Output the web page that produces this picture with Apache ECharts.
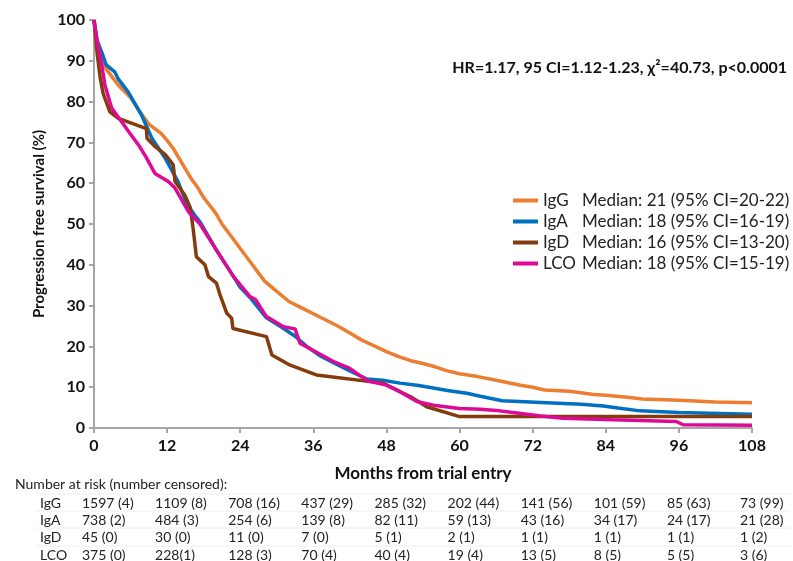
<!DOCTYPE html>
<html>
<head>
<meta charset="utf-8">
<script src="https://cdn.jsdelivr.net/npm/echarts@6/dist/echarts.min.js"></script>
<style>
  html, body { margin: 0; padding: 0; background: #fff; }
  #chart { width: 793px; height: 561px; }
</style>
</head>
<body>
<div id="chart"></div>
<script>
// survival curves, [month, % progression free]
var igG = [[0,100],[0.5,94],[1,90.5],[2,88],[3,86],[4,84],[6,81],[8,76.5],[9,74.5],[11,72.2],[12,70.5],[13,68.5],[14,66],[16,61],[17,59],[18,56.5],[20,52.6],[21,50],[23,46],[24,44],[26,40],[28,36],[30,33.5],[32,31],[34,29.5],[36,28],[40,25],[42,23.3],[44,21.5],[48,18.7],[50,17.5],[52,16.5],[54,15.8],[56,15],[58,14],[60,13.3],[63,12.6],[66,11.7],[70,10.5],[72,10],[74,9.3],[78,9],[82,8.2],[84,8],[88,7.5],[90,7.1],[96,6.8],[102,6.4],[108,6.2]];
var igA = [[0,100],[0.5,95],[1.3,92],[2,89],[3.4,87.3],[4,85.5],[5.6,82.4],[7.8,76.7],[9.5,71],[11.7,66.1],[13.8,60.4],[15.2,55],[16.6,52],[17.4,50.5],[18,49],[20.1,43.6],[22.9,37.1],[24,34.5],[25.6,32],[28.3,27],[31,24.5],[33,22.5],[34.9,20],[37,17.8],[39.3,16],[42,14],[44.8,12],[47.4,11.7],[50.2,11],[53,10.5],[55.7,9.8],[58,9.2],[61.2,8.5],[63.4,7.8],[67,6.7],[74.3,6.2],[80,5.8],[83.6,5.4],[86,4.9],[89.6,4.2],[96,3.8],[108,3.4]];
var igD = [[0,100],[0.5,92],[1,86],[1.5,82],[2.6,77.5],[4,75.9],[8.6,73.4],[8.7,71],[10,69],[11.7,67],[13,64.5],[13.3,60.4],[14.9,57.1],[15.8,54],[16.3,48.5],[16.8,42],[18.2,40],[18.8,37.1],[20.1,35.5],[20.7,32.6],[21.8,28.1],[22.6,26.9],[22.8,24.4],[28.3,22.4],[29.2,17.9],[32.2,15.4],[36.5,13],[47.4,11],[51.9,7.7],[54.6,5.2],[60,2.8],[108,2.8]];
var lco = [[0,100],[0.5,95],[1,91.4],[1.8,84],[2.9,78.4],[4.5,75.1],[6,72],[7.3,69.4],[8.5,66.5],[10,62.4],[12.2,60.4],[13.3,58.8],[15.5,53],[17.4,50],[20.1,43.6],[22.9,37.1],[25.6,32.2],[26.5,31.5],[28.3,27.3],[31.1,24.8],[33,24.3],[33.8,20.8],[36,19],[39.3,16.3],[42,14.6],[44.8,11.6],[48,10.5],[50.2,8.9],[53,6.5],[55.7,5.6],[60,4.8],[63.4,4.6],[66.6,4.2],[68.8,3.8],[73,3],[77,2.4],[85.2,2],[95.6,1.6],[96.7,0.8],[108,0.7]];

var groups = ['IgG', 'IgA', 'IgD', 'LCO'];
var medians = ['Median: 21 (95% CI=20-22)', 'Median: 18 (95% CI=16-19)', 'Median: 16 (95% CI=13-20)', 'Median: 18 (95% CI=15-19)'];
var colors = ['#ED7D31', '#0070C0', '#843C0C', '#DE0A96'];

// number at risk table
var riskMonths = [0, 12, 24, 36, 48, 60, 72, 84, 96, 108];
var riskIgG = ['1597 (4)', '1109 (8)', '708 (16)', '437 (29)', '285 (32)', '202 (44)', '141 (56)', '101 (59)', '85 (63)', '73 (99)'];
var riskIgA = ['738 (2)', '484 (3)', '254 (6)', '139 (8)', '82 (11)', '59 (13)', '43 (16)', '34 (17)', '24 (17)', '21 (28)'];
var riskIgD = ['45 (0)', '30 (0)', '11 (0)', '7 (0)', '5 (1)', '2 (1)', '1 (1)', '1 (1)', '1 (1)', '1 (2)'];
var riskLco = ['375 (0)', '228(1)', '128 (3)', '70 (4)', '40 (4)', '19 (4)', '13 (5)', '8 (5)', '5 (5)', '3 (6)'];

var FONT = 'Lato';

function drawKM () {
  var chartDom = document.getElementById('chart');
  var myChart = echarts.init(chartDom);
  var option;

  var curves = [igG, igA, igD, lco];
  var series = [];
  for (var i = 0; i < groups.length; i++) {
    series.push({
      name: groups[i],
      type: 'line',
      data: curves[i],
      showSymbol: false,
      lineStyle: { color: colors[i], width: 3.5 },
      itemStyle: { color: colors[i] },
      z: 2 + i
    });
  }

  option = {
    animation: false,
    textStyle: { fontFamily: FONT },
    grid: { left: 94, right: 41, top: 20, bottom: 133 },
    legend: {
      orient: 'vertical',
      left: 508,
      top: 187,
      itemWidth: 25,
      itemHeight: 4,
      itemGap: 4,
      icon: 'rect',
      data: groups,
      formatter: function (name) {
        return '{n|' + name + '}{m|' + medians[groups.indexOf(name)] + '}';
      },
      textStyle: {
        fontFamily: FONT,
        fontSize: 17,
        color: '#222',
        rich: {
          n: { width: 39, fontSize: 17, fontFamily: FONT, color: '#222' },
          m: { fontSize: 17, fontFamily: FONT, color: '#222' }
        }
      }
    },
    xAxis: {
      type: 'value',
      min: 0,
      max: 108,
      interval: 12,
      name: 'Months from trial entry',
      nameLocation: 'middle',
      nameGap: 37,
      nameTextStyle: { fontFamily: FONT, fontWeight: 'bold', fontSize: 17, color: '#111' },
      axisLine: { lineStyle: { color: '#A6A6A6', width: 2 } },
      axisTick: { show: true, length: 5, lineStyle: { color: '#A6A6A6', width: 2 } },
      axisLabel: { fontFamily: FONT, fontWeight: 'bold', fontSize: 16, color: '#111', margin: 10 },
      splitLine: { show: false }
    },
    yAxis: {
      type: 'value',
      min: 0,
      max: 100,
      interval: 10,
      name: 'Progression free survival (%)',
      nameLocation: 'middle',
      nameGap: 46,
      nameTextStyle: { fontFamily: FONT, fontWeight: 'bold', fontSize: 15, color: '#111' },
      axisLine: { show: true, lineStyle: { color: '#A6A6A6', width: 2 } },
      axisTick: { show: true, length: 5, lineStyle: { color: '#A6A6A6', width: 2 } },
      axisLabel: { fontFamily: FONT, fontWeight: 'bold', fontSize: 16, color: '#111', margin: 9 },
      splitLine: { show: false }
    },
    series: series
  };

  option && myChart.setOption(option);

  // annotation + number at risk table, columns placed with the x scale
  var els = [];
  els.push({
    type: 'text', right: 6, top: 60,
    style: { text: 'HR=1.17, 95 CI=1.12-1.23, \u03C7\u00B2=40.73, p<0.0001', font: 'bold 16px ' + FONT, fill: '#111' }
  });
  els.push({
    type: 'text', left: 15, top: 477,
    style: { text: 'Number at risk (number censored):', font: '14px ' + FONT, fill: '#222' }
  });
  var rows = [riskIgG, riskIgA, riskIgD, riskLco];
  var rowY = [503, 520, 537, 555];
  for (var r = 0; r < rows.length; r++) {
    els.push({
      type: 'text', x: 40, y: rowY[r],
      style: { text: groups[r], font: '14px ' + FONT, fill: '#222', verticalAlign: 'middle' }
    });
    els.push({
      type: 'line', shape: { x1: 36, y1: rowY[r] - 9, x2: 790, y2: rowY[r] - 9 },
      style: { stroke: '#EEEEEE', lineWidth: 1 }
    });
    for (var c = 0; c < riskMonths.length; c++) {
      var px = myChart.convertToPixel({ xAxisIndex: 0 }, riskMonths[c]);
      els.push({
        type: 'text', x: px - 12, y: rowY[r],
        style: { text: rows[r][c], font: '14px ' + FONT, fill: '#222', verticalAlign: 'middle' }
      });
    }
  }
  myChart.setOption({ graphic: { elements: els } });
}

drawKM()
</script>
</body>
</html>
